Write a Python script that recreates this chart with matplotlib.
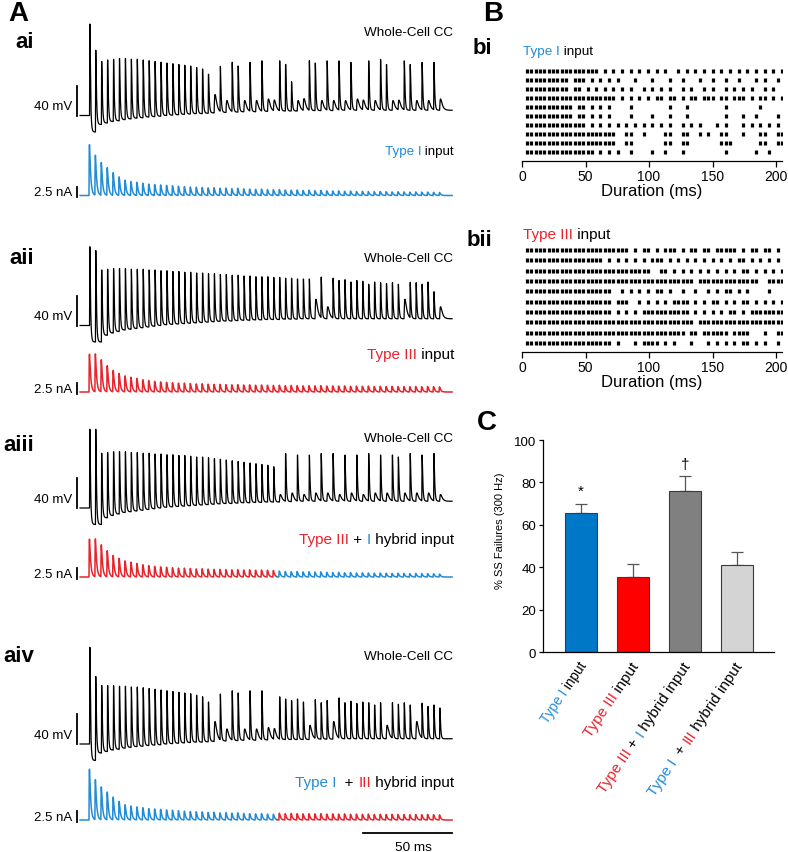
import numpy as np
import matplotlib
matplotlib.use("Agg")
import matplotlib.pyplot as plt
from matplotlib.font_manager import FontProperties

plt.rcParams.update({
    "font.family": ["Liberation Sans", "DejaVu Sans"],
    "font.size": 9,
    "axes.linewidth": 0.9,
})

W, H = 788, 853
BLUE = "#238cd6"
RED = "#e8232b"

# ---------------- data ----------------
N_PULSES = 60
PULSE_MS = 1000 / 300          # 300 Hz train
SPLIT = 32                     # first pulse of the second input in hybrid trains

# EPSC amplitudes (nA)
type1_nA = [12.1, 9.5, 7.8, 6.6, 5.4, 4.4, 3.6, 3.3, 3.1, 2.9,
            2.7, 2.6, 2.5, 2.4, 2.3, 2.2, 2.1, 2.0, 1.95, 1.9,
            1.8, 1.85, 1.7, 1.75, 1.6, 1.7, 1.55, 1.5, 1.45, 1.5,
            1.4, 1.35, 1.4, 1.3, 1.25, 1.3, 1.2, 1.25, 1.15, 1.2,
            1.1, 1.05, 1.1, 1.0, 1.05, 0.95, 1.0, 0.95, 0.9, 0.95,
            0.9, 0.85, 0.9, 0.85, 0.8, 0.85, 0.8, 0.8, 0.75, 0.7]
type3_nA = [9.0, 9.0, 7.6, 6.2, 5.1, 4.4, 3.8, 3.5, 3.2, 2.9,
            2.7, 2.5, 2.4, 2.3, 2.2, 2.1, 2.1, 2.0, 1.9, 1.95,
            1.85, 1.8, 1.8, 1.75, 1.7, 1.75, 1.65, 1.7, 1.6, 1.65,
            1.6, 1.55, 1.6, 1.5, 1.55, 1.5, 1.45, 1.5, 1.45, 1.5,
            1.4, 1.45, 1.4, 1.45, 1.35, 1.4, 1.35, 1.4, 1.3, 1.35,
            1.3, 1.35, 1.3, 1.3, 1.25, 1.3, 1.25, 1.3, 1.25, 1.2]

# membrane potential between pulses (mV re rest)
trough_single = [-22, -12, -10, -8, -7, -5.5, -4.5, -3.5, -3, -2,
                 -1.5, -1, 0, 0.5, 1, 1.5, 2, 2.5, 2.5, 3,
                 3.5, 4, 4, 4.5, 4.5, 5, 5, 5, 5, 5.5,
                 5.5, 5.5, 6, 6, 6, 6, 6, 6.5, 6.5, 6.5,
                 6.5, 6.5, 7, 7, 7, 7, 7, 7, 7, 7,
                 7, 7, 7, 7, 7, 7, 7, 7, 7, 7]
trough_double = [-22, -22, -13, -10, -8, -6, -5, -4, -3, -2,
                 -1, 0, 1, 1.5, 2, 2.5, 3, 3.5, 4, 4.5,
                 5, 5.5, 6, 6, 6.5, 7, 7, 7.5, 7.5, 8,
                 8, 8, 8.5, 8.5, 8.5, 9, 9, 9, 9, 9,
                 9, 9, 9, 9, 9, 9, 9, 9, 9, 9,
                 9, 9, 9, 9, 9, 9, 9, 9, 9, 9]

# peak depolarisation after each pulse (mV re rest); < 40 mV = failure (EPSP only)
ai_peak = [122, 87, 72, 74, 75, 76, 76, 75, 75, 74,
           73, 72, 71, 70, 69, 68, 67, 66, 64, 62,
           55, 28, 64, 20, 70, 66, 20, 70, 20, 72,
           22, 20, 72, 68, 45, 20, 22, 72, 70, 20,
           72, 20, 72, 20, 70, 22, 20, 72, 20, 74,
           68, 20, 20, 72, 68, 20, 70, 20, 70, 22]
aii_peak = [105, 100, 74, 75, 76, 76, 76, 75, 75, 75,
            74, 74, 73, 73, 72, 72, 71, 71, 70, 70,
            69, 69, 68, 68, 67, 67, 66, 66, 65, 65,
            65, 64, 64, 63, 63, 62, 62, 62, 35, 63,
            25, 62, 60, 61, 58, 60, 59, 55, 58, 57,
            56, 57, 55, 35, 56, 57, 55, 58, 45, 25]
aiii_peak = [105, 105, 73, 74, 75, 75, 75, 74, 74, 73,
             73, 72, 72, 71, 71, 70, 70, 69, 68, 68,
             67, 66, 65, 64, 63, 62, 61, 60, 59, 58,
             57, 55, 18, 72, 20, 70, 18, 70, 20, 72,
             20, 72, 18, 70, 20, 70, 18, 72, 20, 70,
             20, 70, 68, 20, 72, 20, 70, 20, 72, 18]
aiv_peak = [129, 90, 78, 78, 78, 77, 77, 76, 76, 75,
            74, 73, 72, 71, 70, 69, 68, 67, 65, 63,
            56, 30, 65, 20, 70, 68, 20, 70, 20, 70,
            22, 20, 62, 60, 58, 60, 56, 25, 58, 55,
            58, 30, 60, 55, 57, 54, 56, 55, 52, 55,
            25, 54, 53, 55, 52, 30, 53, 50, 52, 48]

# raster: pulse indices that evoked a spike, one string per trial
RASTER_T0, RASTER_DT = 4.0, 3.4
raster_bi = [
    "0-16 18 20 22 24 26 28 30 32 35 37 39 41 43 45 47 49 51 53 55 57 59",
    "0-9 11-13 15 17 19 21 25 29 33 36 40 43 46 49 53 55 58",
    "0-9 11 12 14 16 18 20 22 24 27 29 31 33 36 38 41 43 46 48 50 52 55 57",
    "0-20 22 24 26 28 30 31 33 34 36 38 39 41 42 43 45 46 48 49 50 52 54 55 57 59",
    "0-10 12 13 15 17 19 24 33 37 46 54",
    "0-10 12 13 15 17 19 24 29 33 37 46 50 53 58",
    "0-13 15 17 19 21 23 25 27 29 31 33 36 38 40 44 46 50 52 54 56 58",
    "0-20 23 24 27 32 33 36 37 40 42 45 46 50 54 55 58 59",
    "0-20 23 24 32 33 36 37 45 46 47 54 55 58 59",
    "0-15 17 19 21 24 29 32 36 46 53 56",
]
raster_bii = [
    "0-23 25 27 28 30 32 33 34 36 38 39 41 42 44 45 46 47 48 50 52 53 55 56 58",
    "0-17 19 21 23 25 27 29 30 31 33 35 37 39 41 43 45 47 49 50 52 54 56 58",
    "0-28 31 32 34 36 38 40 42 44 46 48 50 51 53 55 57 59",
    "0-38 40-53 56-59",
    "0-19 22 24 26 28 30 31 33 36 39 42 44 46 47 49 51 56",
    "0-19 21 22 23 26 28 30 32 34 35 36 37 39 41 43 44 46 48 50 51 53 55 57 59",
    "0-19 21 23 25 27-37 39 41 43 45 47 48 50 52-59",
    "0-38 40-59",
    "0-36 38 39 41-46 48-51 55 58 59",
    "0-19 21 25 27 28 29 30 32 34 38 42 44 46 48 50 51 53 55 58",
]

# panel C
bar_means = [65.5, 35.6, 75.9, 40.9]
bar_sem = [4.5, 5.9, 6.9, 6.3]
bar_colors = ["#0078c8", "#ff0000", "#808080", "#d4d4d4"]
label_type1 = [("Type I", BLUE), (" input", "black")]
label_type3 = [("Type III", RED), (" input", "black")]
label_hyb31 = [("Type III", RED), (" + ", "black"), ("I", BLUE), (" hybrid input", "black")]
label_hyb13 = [("Type I", BLUE), ("  + ", "black"), ("III", RED), (" hybrid input", "black")]
bar_labels = [label_type1, label_type3, label_hyb31, label_hyb13]
bar_label_size = [9.8, 11, 11, 11]
bar_marks = ["*", "", "\u2020", ""]

# ---------------- helpers ----------------
fig = plt.figure(figsize=(W / 100, H / 100), dpi=100)
renderer = fig.canvas.get_renderer()


def px_axes(left, top, right, bottom):
    return fig.add_axes([left / W, 1 - bottom / H, (right - left) / W, (bottom - top) / H])


def fig_text(x, y, s, **kw):
    return fig.text(x / W, 1 - y / H, s, **kw)


def piece_width(s, size):
    fp = FontProperties(size=size)
    bar = renderer.get_text_width_height_descent("|", fp, ismath=False)[0]
    return renderer.get_text_width_height_descent(s + "|", fp, ismath=False)[0] - bar


def multicolor(x, y, pieces, size=9, angle=0.0):
    # right end of the string at (x, y) in image pixels, y = baseline
    a = np.deg2rad(angle)
    for s, c in reversed(pieces):
        fig_text(x, y, s, color=c, fontsize=size, rotation=angle,
                 rotation_mode="anchor", ha="right", va="baseline")
        w = piece_width(s, size)
        x -= w * np.cos(a)
        y += w * np.sin(a)


def spike_index(spec):
    out = []
    for tok in spec.split():
        if "-" in tok:
            a, b = map(int, tok.split("-"))
            out.extend(range(a, b + 1))
        else:
            out.append(int(tok))
    return np.array(out)


# ---------------- panel A traces ----------------
X0_PX, MS_PX = 89, 1.78
T_MIN, T_MAX = -16, 208
V_LIM, V_PX = (-35, 135), 0.75
I_LIM, I_PX = (-2, 13.5), 4.2

t = np.arange(-5, 204, 0.02)
pulse_t = np.arange(N_PULSES) * PULSE_MS


def kernel(s, rise, decay):
    sc = np.clip(s, 0, None)
    k = np.where(s > 0, np.exp(-sc / decay) - np.exp(-sc / rise), 0.0)
    return k / k.max()


def vm_trace(peaks, trough):
    idx = np.floor((t - 0.3) / PULSE_MS).astype(int)
    base = np.where(idx >= 0, np.take(trough, np.clip(idx, 0, N_PULSES - 1)), 0.0)
    v = base.copy()
    for i, p in enumerate(peaks):
        s = t - pulse_t[i] - 0.3
        if p >= 40:
            v += (p - trough[i]) * kernel(s, 0.1, 0.35)
        else:
            v += (p - trough[i]) * kernel(s, 0.35, 0.9)
    return v


def im_trace(amps):
    cur = np.zeros_like(t)
    for i, a in enumerate(amps):
        cur += a * kernel(t - pulse_t[i], 0.12, 0.65)
    return cur


def trace_axes(base_px, lim, px_per_unit):
    ax = px_axes(X0_PX + T_MIN * MS_PX, base_px - lim[1] * px_per_unit,
                 X0_PX + T_MAX * MS_PX, base_px - lim[0] * px_per_unit)
    ax.set_xlim(T_MIN, T_MAX)
    ax.set_ylim(*lim)
    ax.axis("off")
    return ax


panels_a = [
    # label, label y, V baseline px, I baseline px, peaks, troughs, currents, colours,
    # input text, text baseline y, text size
    ("ai", 43, 116.5, 196.5, ai_peak, trough_single, (type1_nA, type1_nA), (BLUE, BLUE),
     label_type1, 155.5, 9.6),
    ("aii", 258, 326.5, 393, aii_peak, trough_double, (type3_nA, type3_nA), (RED, RED),
     label_type3, 359, 11),
    ("aiii", 446, 509, 578, aiii_peak, trough_double, (type3_nA, type1_nA), (RED, BLUE),
     label_hyb31, 544, 11),
    ("aiv", 657, 745, 821, aiv_peak, trough_single, (type1_nA, type3_nA), (BLUE, RED),
     label_hyb13, 787, 11),
]
cc_y = {"ai": 33, "aii": 259, "aiii": 439, "aiv": 657}

fig_text(8, 14, "A", fontsize=20, fontweight="bold", ha="left", va="center")
for name, ly, vb, ib, peaks, trough, (amp1, amp2), (c1, c2), inp, inp_y, inp_size in panels_a:
    fig_text(34, ly, name, fontsize=16, fontweight="bold", ha="right", va="center")

    axv = trace_axes(vb, V_LIM, V_PX)
    axv.plot(t, vm_trace(peaks, trough), color="black", lw=0.9)
    axv.plot([-6.5, -6.5], [0, 40], color="black", lw=1.3)
    axv.text(-9.5, 12, "40 mV", fontsize=9.5, ha="right", va="center")
    fig_text(453, cc_y[name], "Whole-Cell CC", fontsize=9.7, ha="right", va="center")

    axi = trace_axes(ib, I_LIM, I_PX)
    amps = np.array(amp1[:SPLIT] + amp2[SPLIT:])
    cur = im_trace(amps)
    t_split = pulse_t[SPLIT] - 1.0
    first = t < t_split
    second = t >= t_split - 0.02
    axi.plot(t[first], cur[first], color=c1, lw=1.1)
    axi.plot(t[second], cur[second], color=c2, lw=1.1)
    axi.plot([-6.5, -6.5], [-0.4, 2.1], color="black", lw=1.3)
    axi.text(-9.5, 0.8, "2.5 nA", fontsize=9.5, ha="right", va="center")
    multicolor(454, inp_y, inp, size=inp_size)

    if name == "aiv":
        axi.plot([154, 204], [-3.1, -3.1], color="black", lw=1.3, clip_on=False)
        axi.text(182, -6.4, "50 ms", fontsize=9.7, ha="center", va="center", clip_on=False)

# ---------------- panel B rasters ----------------
R_LEFT, R_MS = 522, 1.27
fig_text(483, 14, "B", fontsize=20, fontweight="bold", ha="left", va="center")


def raster(top, bottom, ylim, rows, label, label_y):
    ax = px_axes(R_LEFT, top, R_LEFT + 205 * R_MS, bottom)
    for r, spec in enumerate(rows):
        idx = spike_index(spec)
        ax.plot(RASTER_T0 + idx * RASTER_DT, np.full(idx.size, r + 1), ls="none",
                marker="|", ms=2.9, mew=2.3, color="black")
    ax.set_xlim(0, 205)
    ax.set_ylim(*ylim)
    for sp in ("top", "right", "left"):
        ax.spines[sp].set_visible(False)
    ax.set_yticks([])
    ax.set_xticks([0, 50, 100, 150, 200])
    ax.tick_params(axis="x", length=4, width=0.9, pad=2, labelsize=10)
    ax.set_xlabel("Duration (ms)", fontsize=12, labelpad=0)
    fig_text(492, label_y, label, fontsize=16, fontweight="bold", ha="right", va="center")
    return ax


def raster_title(y, pieces, size):
    x = 523
    for s, c in pieces:
        fig_text(x, y, s, color=c, fontsize=size, ha="left", va="baseline")
        x += piece_width(s, size)


raster(64, 162, (11.0, 0.11), raster_bi, "bi", 48)
raster_title(54.5, label_type1, 9.7)
raster(243, 353, (10.87, 0.23), raster_bii, "bii", 240)
raster_title(239, label_type3, 11)

# ---------------- panel C bars ----------------
fig_text(477, 423, "C", fontsize=20, fontweight="bold", ha="left", va="center")
axc = px_axes(543, 441, 774, 653)
xb = np.arange(len(bar_means))
axc.bar(xb, bar_means, width=0.6, color=bar_colors, edgecolor="#3a3a3a", linewidth=0.8, zorder=2)
axc.errorbar(xb, bar_means, yerr=[np.zeros(len(bar_sem)), bar_sem], fmt="none",
             ecolor="#555555", elinewidth=0.9, capsize=4, capthick=0.9, zorder=1)
for k, m in enumerate(bar_marks):
    if m:
        axc.text(xb[k], bar_means[k] + bar_sem[k] + 6, m, fontsize=11, ha="center", va="center")
axc.set_xlim(-0.73, 3.71)
axc.set_ylim(0, 100)
axc.set_yticks(np.arange(0, 101, 20))
axc.set_xticks([])
axc.spines["top"].set_visible(False)
axc.spines["right"].set_visible(False)
axc.tick_params(axis="y", length=3, width=0.9, pad=2, labelsize=9.5)
axc.set_ylabel("% SS Failures (300 Hz)", fontsize=8)
axc.yaxis.set_label_coords(-0.165, 0.575)

for k, pieces in enumerate(bar_labels):
    dx, dy = axc.transData.transform((xb[k], 0))
    multicolor(dx + 6, H - dy + 13, pieces, size=bar_label_size[k], angle=56)

fig.savefig("out.png", dpi=100, facecolor="white")
